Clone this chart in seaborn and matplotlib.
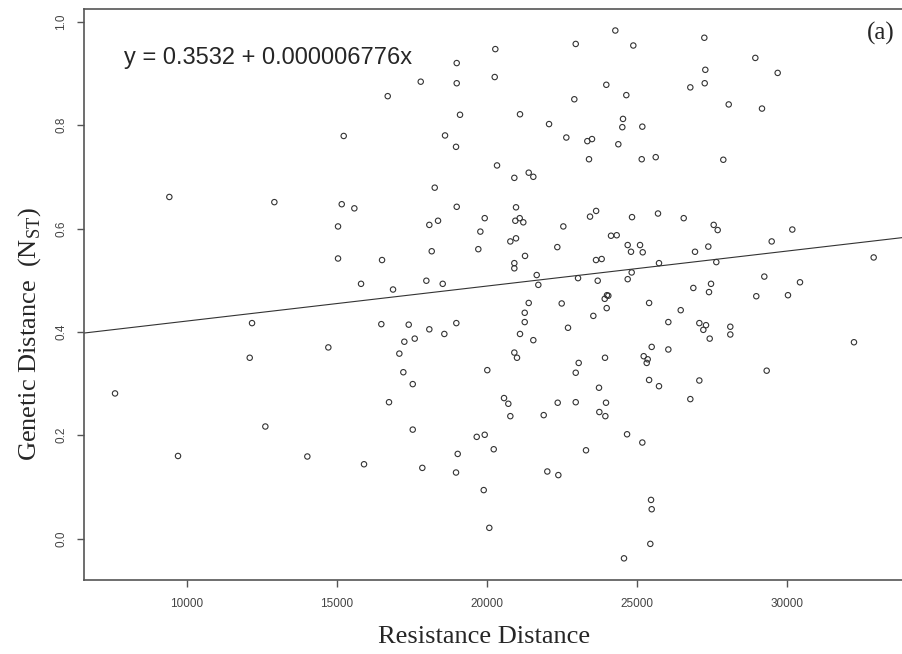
import matplotlib
matplotlib.use("Agg")
import matplotlib.pyplot as plt
import seaborn as sns

# values: resistance distance vs. genetic distance (NST)
resistance = [
    15226, 9421, 12917, 15160, 15580, 15037, 15037,
    24268, 22950, 20273, 18988, 20253, 17790, 18988, 23968, 24634, 16691,
    22903, 19098, 21095, 24524, 22062, 24501, 18599, 22637, 23336, 23492,
    24368, 18965, 23392, 20330, 20906, 21385, 21538, 18256, 18988, 20962,
    23629, 23426, 18366, 18076, 19920, 20939, 21085, 21205, 22537, 19775,
    24125, 24314, 20773, 20962, 19707, 18156, 22337, 24680, 24790, 16502,
    21262, 23625, 23814, 20906, 20906, 21651, 21705, 23027, 23682, 24680,
    15803, 16868, 17977, 18522, 24035,
    24867, 27231, 28929, 27264, 29673, 26765, 27244, 28043, 29151, 25167,
    25147, 25613, 27863, 24824, 25689, 26545, 27543, 27676, 30160, 25091,
    25180, 29474, 26921, 27364, 27630, 25722, 32869, 24813, 29228, 30416,
    26865, 27454, 27387, 28961, 30016,
    12174, 12097, 14714, 7613, 12617, 9710, 14015,
    21385, 22483, 23915, 23991, 23981, 21252, 21252, 23536, 22693, 16478,
    17390, 18975, 18076, 18576, 21095, 21538, 17244, 17590, 17078, 20906,
    20995, 23925, 23049, 22950, 17211, 20006, 17524, 23725, 16734, 20563,
    20706, 20773, 21884, 22350, 22950, 23958, 23736, 23936, 24659, 17524,
    19654, 19920, 20220, 23292, 15902, 17843, 19021, 18965, 22004, 22371,
    19887, 20073, 24557,
    25393, 26445, 26033, 27065, 27287, 27198, 27410, 28096, 28096, 32213,
    25479, 26033, 25213, 25346, 25313, 25393, 25722, 27065, 26765, 29307,
    25167, 25457, 25479, 25433,
]
nst = [
    0.779, 0.661, 0.651, 0.647, 0.639, 0.604, 0.542,
    0.983, 0.957, 0.947, 0.920, 0.893, 0.884, 0.881, 0.878, 0.858, 0.856,
    0.850, 0.820, 0.821, 0.812, 0.802, 0.796, 0.780, 0.776, 0.769, 0.773,
    0.763, 0.758, 0.734, 0.722, 0.698, 0.708, 0.700, 0.679, 0.642, 0.641,
    0.634, 0.623, 0.615, 0.607, 0.620, 0.615, 0.620, 0.612, 0.604, 0.594,
    0.586, 0.587, 0.575, 0.581, 0.560, 0.556, 0.564, 0.568, 0.555, 0.539,
    0.547, 0.539, 0.541, 0.533, 0.523, 0.510, 0.491, 0.504, 0.499, 0.502,
    0.493, 0.482, 0.499, 0.493, 0.470,
    0.954, 0.969, 0.930, 0.907, 0.901, 0.873, 0.881, 0.840, 0.832, 0.797,
    0.734, 0.738, 0.733, 0.622, 0.629, 0.620, 0.607, 0.597, 0.598, 0.568,
    0.554, 0.575, 0.555, 0.565, 0.535, 0.533, 0.544, 0.515, 0.507, 0.496,
    0.485, 0.493, 0.477, 0.469, 0.471,
    0.417, 0.350, 0.370, 0.281, 0.217, 0.160, 0.159,
    0.456, 0.455, 0.464, 0.471, 0.446, 0.437, 0.419, 0.431, 0.408, 0.415,
    0.414, 0.417, 0.405, 0.396, 0.396, 0.384, 0.381, 0.387, 0.358, 0.360,
    0.350, 0.350, 0.340, 0.321, 0.322, 0.326, 0.299, 0.292, 0.264, 0.272,
    0.261, 0.237, 0.239, 0.263, 0.264, 0.263, 0.245, 0.237, 0.202, 0.211,
    0.197, 0.201, 0.173, 0.171, 0.144, 0.137, 0.164, 0.128, 0.130, 0.123,
    0.094, 0.021, -0.038,
    0.456, 0.442, 0.419, 0.417, 0.413, 0.404, 0.387, 0.410, 0.395, 0.380,
    0.371, 0.366, 0.353, 0.347, 0.340, 0.307, 0.295, 0.306, 0.270, 0.325,
    0.186, 0.075, 0.057, -0.010,
]

intercept = 0.3532
slope = 0.000006776
equation = "y = 0.3532 + 0.000006776x"

x_ticks = [10000, 15000, 20000, 25000, 30000]
y_ticks = [0.0, 0.2, 0.4, 0.6, 0.8, 1.0]
y_tick_labels = ["0.0", "0.2", "0.4", "0.6", "0.8", "1.0"]

sns.set_style("ticks")
plt.rcParams["font.family"] = ["Liberation Sans", "DejaVu Sans"]
plt.rcParams["mathtext.fontset"] = "custom"
plt.rcParams["mathtext.rm"] = "Liberation Serif"

W, H = 902, 654
fig = plt.figure(figsize=(W / 100, H / 100), dpi=100)
ax = fig.add_axes([84 / W, 1 - 580 / H, 1 - 84 / W, (580 - 9) / H])

sns.scatterplot(
    x=resistance,
    y=nst,
    ax=ax,
    s=15,
    marker="o",
    facecolors="none",
    edgecolor="#333333",
    linewidth=0.8,
)
ax.axline((0, intercept), slope=slope, color="#333333", linewidth=0.8)

ax.set_xlim(6580, 33812)
ax.set_ylim(-0.0799, 1.0246)
ax.set_xticks(x_ticks)
ax.set_yticks(y_ticks)
ax.set_xticklabels([str(t) for t in x_ticks])
ax.set_yticklabels(y_tick_labels, rotation=90, va="center")

for side in ["top", "bottom", "left"]:
    ax.spines[side].set_color("#555555")
    ax.spines[side].set_linewidth(1.2)
ax.spines["right"].set_visible(False)

ax.tick_params(axis="both", direction="out", length=5, width=1,
               color="#555555", labelcolor="#444444", labelsize=8.5)
ax.tick_params(axis="x", pad=8)
ax.tick_params(axis="y", pad=7)
ax.set_xlabel("")
ax.set_ylabel("")

fig.text(484.5 / W, 1 - 637 / H, "Resistance Distance",
         family="Liberation Serif", fontsize=19, ha="center", va="center")
fig.text(30 / W, 1 - 334 / H, "Genetic Distance  (N$_{\\mathrm{ST}}$)",
         family="Liberation Serif", fontsize=19, rotation=90,
         ha="center", va="center")
fig.text(124 / W, 1 - 58 / H, equation, fontsize=17, ha="left", va="center")
fig.text(895 / W, 1 - 33 / H, "(a)", family="Liberation Serif",
         fontsize=18, ha="right", va="center")

fig.savefig("out.png", dpi=100)
